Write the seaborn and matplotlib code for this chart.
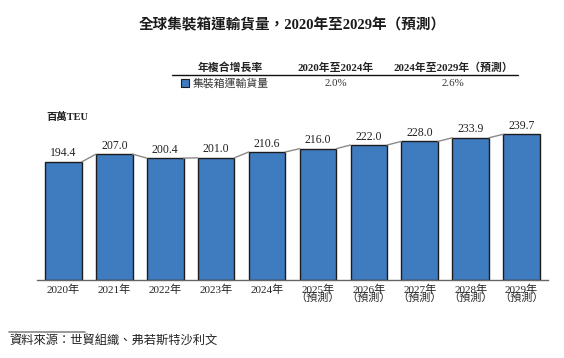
import matplotlib
matplotlib.use("Agg")
import matplotlib.pyplot as plt
import seaborn as sns
from matplotlib.patches import Rectangle
from matplotlib.lines import Line2D

# data
years = ["2020年", "2021年", "2022年", "2023年", "2024年",
         "2025年", "2026年", "2027年", "2028年", "2029年"]
volumes = [194.4, 207.0, 200.4, 201.0, 210.6, 216.0, 222.0, 228.0, 233.9, 239.7]
forecast = [False] * 5 + [True] * 5
cagr_periods = ["2020年至2024年", "2024年至2029年（預測）"]
cagr_values = ["2.0%", "2.6%"]

sns.set_theme(style="white")
plt.rcParams["font.family"] = ["Liberation Serif", "Noto Sans CJK TC", "DejaVu Sans"]

BLUE = "#3f7bbf"
W, H = 564, 358

fig = plt.figure(figsize=(W / 100, H / 100), dpi=100)


def px(x, y):
    return x / W, 1 - y / H


# main axes placed in pixel terms
left, right, top, bottom = 37, 548, 122, 280
ax = fig.add_axes([left / W, 1 - bottom / H, (right - left) / W, (bottom - top) / H])

bar_w = 0.72
sns.barplot(x=list(range(len(years))), y=volumes, color=BLUE, saturation=1,
            edgecolor="#1c1c1c", linewidth=1.0, width=bar_w, ax=ax)

ax.set_ylim(0, (bottom - top) / 0.608)
ax.set_xlim(-0.52, 9.52)

# grey connector lines between bar tops
for i in range(len(volumes) - 1):
    ax.plot([i + bar_w / 2, i + 1 - bar_w / 2], [volumes[i], volumes[i + 1]],
            color="#8a8a8a", lw=1.0, zorder=1, clip_on=False)

for i, v in enumerate(volumes):
    ax.text(i, v + 4, f"{v:.1f}", ha="center", va="bottom", fontsize=8.5, color="#222222")

labels = [y + ("\n（預測）" if f else "") for y, f in zip(years, forecast)]
ax.set_xticks(range(len(years)))
ax.set_xticklabels(labels, fontsize=8, linespacing=0.8, va="top")
ax.tick_params(axis="x", length=0, pad=3)
ax.set_yticks([])
ax.set_xlabel("")
ax.set_ylabel("")
for s in ["top", "left", "right"]:
    ax.spines[s].set_visible(False)
ax.spines["bottom"].set_color("#666666")
ax.spines["bottom"].set_linewidth(1.0)

# title
fig.text(*px(292, 25), "全球集裝箱運輸貨量，2020年至2029年（預測）",
         ha="center", va="center", fontsize=10.5, fontweight="bold", color="#1a1a1a")

# CAGR table
fig.text(*px(230, 68), "年複合增長率", ha="center", va="center", fontsize=7.8,
         fontweight="bold", color="#222222")
for xc, period, val in zip([336, 453], cagr_periods, cagr_values):
    fig.text(*px(xc, 68), period, ha="center", va="center", fontsize=7.8,
             fontweight="bold", color="#222222")
    fig.text(*px(xc, 83), val, ha="center", va="center", fontsize=7.8, color="#333333")
fig.add_artist(Line2D([172 / W, 518 / W], [1 - 74.5 / H, 1 - 74.5 / H],
                      color="#111111", lw=1.0))
fig.add_artist(Rectangle(px(181, 87), 8 / W, 8 / H, facecolor=BLUE,
                         edgecolor="#1c1c1c", lw=0.8))
fig.text(*px(193, 83), "集裝箱運輸貨量", ha="left", va="center", fontsize=7.8, color="#333333")

# unit label
fig.text(*px(46, 117), "百萬TEU", ha="left", va="center", fontsize=7.5,
         fontweight="bold", color="#222222")

# source note
fig.add_artist(Line2D([9 / W, 85 / W], [1 - 332 / H, 1 - 332 / H], color="#888888", lw=1.2))
fig.text(*px(9, 342), "資料來源：世貿組織、弗若斯特沙利文", ha="left", va="center",
         fontsize=8.8, style="italic", color="#222222")

fig.savefig("out.png", dpi=100)
